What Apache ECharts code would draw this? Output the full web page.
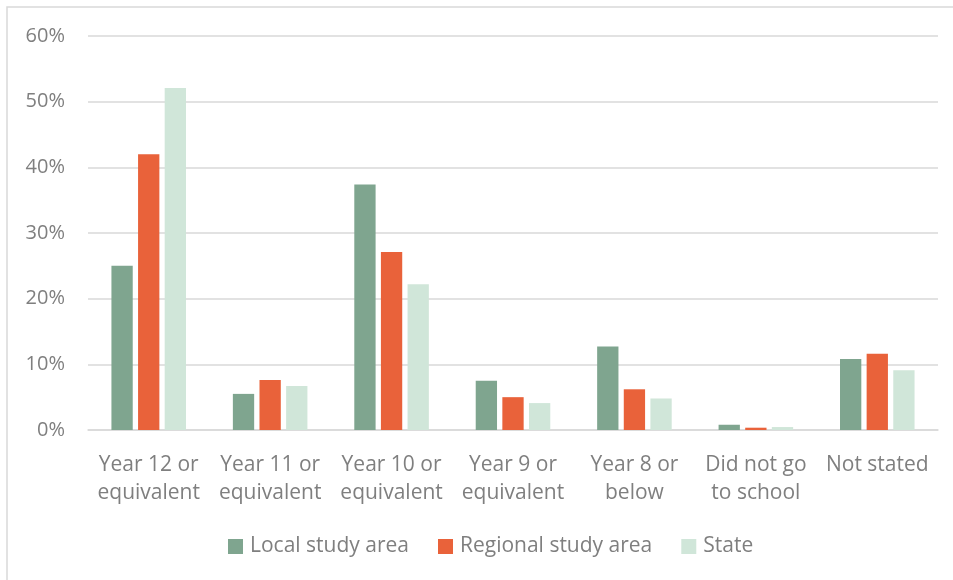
<!DOCTYPE html>
<html><head><meta charset="utf-8">
<script src="https://cdn.jsdelivr.net/npm/echarts@6/dist/echarts.min.js"></script>
<style>html,body{margin:0;padding:0;background:#fff}#c{width:953px;height:580px}</style>
</head><body><div id="c"></div>
<script>
const categories = ['Year 12 or\nequivalent','Year 11 or\nequivalent','Year 10 or\nequivalent','Year 9 or\nequivalent','Year 8 or\nbelow','Did not go\nto school','Not stated'];
const localArea = [25.0, 5.5, 37.4, 7.5, 12.7, 0.8, 10.8];
const regionalArea = [42.0, 7.6, 27.1, 5.0, 6.2, 0.35, 11.6];
const stateArea = [52.1, 6.7, 22.2, 4.1, 4.8, 0.45, 9.1];
const seriesNames = ['Local study area','Regional study area','State'];
const colors = ['#7fa58f','#e9623a','#d0e6d9'];
const font = '"Open Sans", Lato, sans-serif';
const chart = echarts.init(document.getElementById('c'));
chart.setOption({
  animation:false,
  color: colors,
  textStyle:{fontFamily:font},
  graphic:[{type:'rect',shape:{x:7,y:7,width:1200,height:1200},style:{fill:'none',stroke:'#d9d9d9',lineWidth:1.5},silent:true}],
  grid:{left:88,right:15,top:36,bottom:150},
  legend:{left:223,top:531,itemWidth:15,itemHeight:15,itemGap:29,icon:'rect',
    textStyle:{fontFamily:font,fontSize:21,color:'#7f7f7f',padding:[0,0,0,2]},
    data:seriesNames},
  xAxis:{type:'category',data:categories,
    axisLine:{lineStyle:{color:'#d9d9d9',width:1.5}},axisTick:{show:false},
    axisLabel:{fontFamily:font,fontSize:21,color:'#7f7f7f',lineHeight:28,margin:21,interval:0}},
  yAxis:{type:'value',min:0,max:60,interval:10,
    axisLabel:{formatter:'{value}%',fontFamily:font,fontSize:20,color:'#7f7f7f',margin:23},
    splitLine:{lineStyle:{color:'#d9d9d9',width:1.5}},axisLine:{show:false},axisTick:{show:false}},
  series:[
    {name:seriesNames[0],type:'bar',data:localArea,barGap:'25%',barCategoryGap:'38.6%'},
    {name:seriesNames[1],type:'bar',data:regionalArea,barGap:'25%',barCategoryGap:'38.6%'},
    {name:seriesNames[2],type:'bar',data:stateArea,barGap:'25%',barCategoryGap:'38.6%'}
  ]
});
</script></body></html>
